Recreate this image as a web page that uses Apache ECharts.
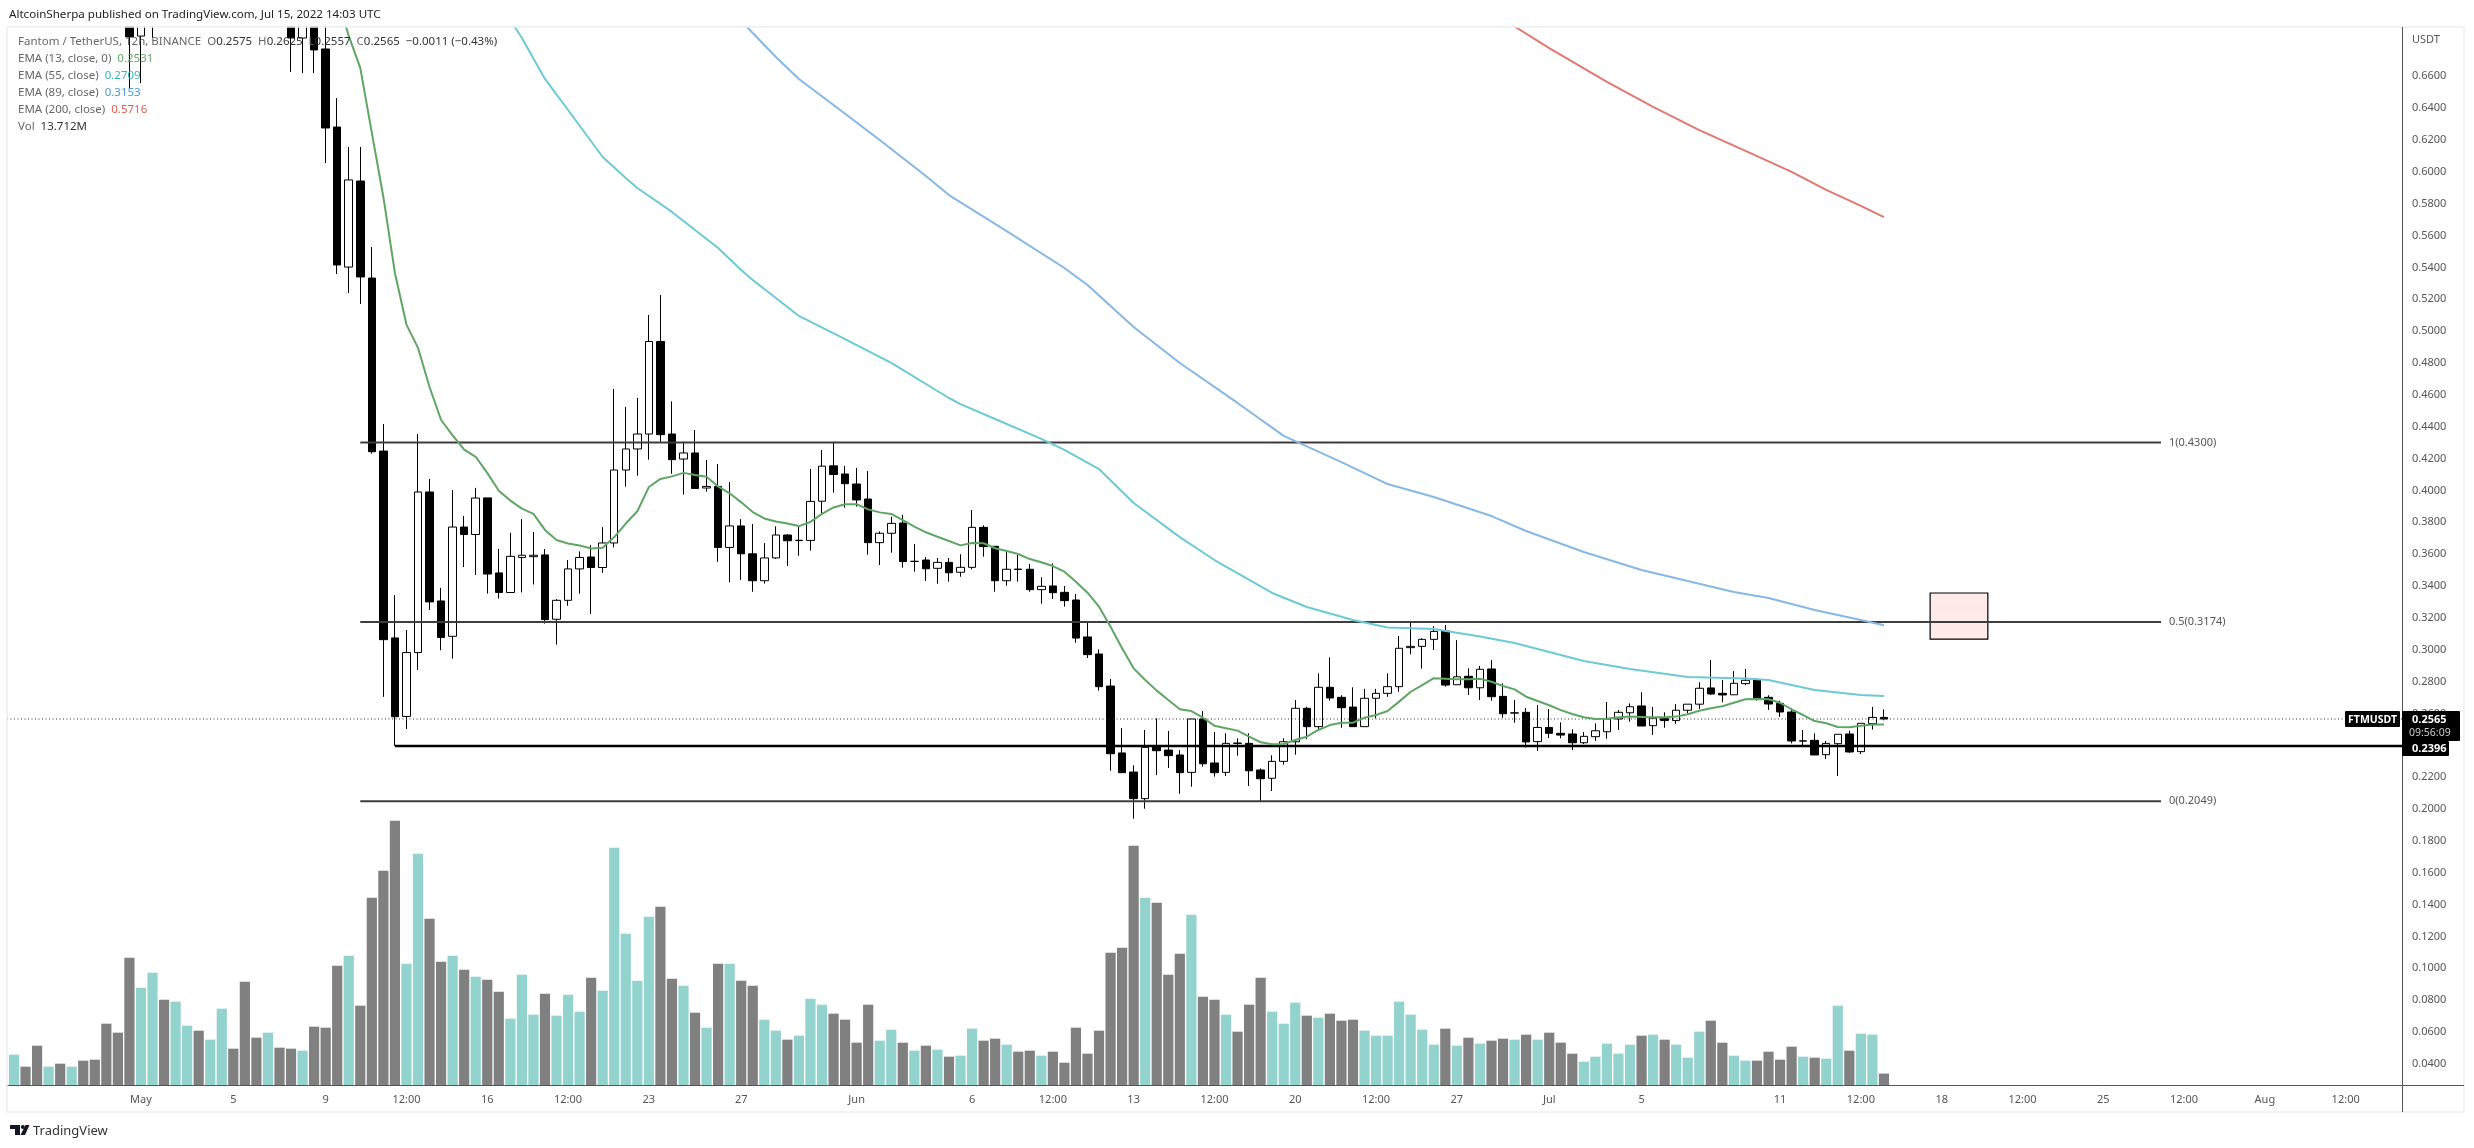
<!DOCTYPE html>
<html><head><meta charset="utf-8">
<style>html,body{margin:0;padding:0;background:#fff}#c{width:2474px;height:1148px}</style>
<script src="https://cdn.jsdelivr.net/npm/echarts@6/dist/echarts.min.js"></script>
</head><body><div id="c"></div>
<script>
const opens=[.90,.93,.91,.86,.875,.85,.87,.84,.82,.77,
.735,.6852,.735,.76,.74,.755,.77,.75,.765,.79,
.775,.74,.73,.745,.73,.6840,.71,.6771,.6281,.5402,
.5942,.5333,.4247,.3074,.2581,.2982,.3990,.3306,.3084,.3770,
.3723,.3953,.3482,.3359,.3579,.3584,.3595,.3191,.3310,.3507,
.3582,.3516,.3670,.4128,.4260,.4354,.4935,.4354,.4197,.4235,
.4015,.4025,.3642,.3777,.3602,.3433,.3576,.3720,.3685,.3686,
.3932,.4154,.4103,.4040,.3946,.3672,.3731,.3795,.3554,.3563,
.3511,.3548,.3486,.3517,.3768,.3649,.3433,.3506,.3505,.3377,
.3400,.3360,.3312,.3080,.2973,.2772,.2352,.2232,.2065,.2391,
.2370,.2339,.2230,.2565,.2289,.2230,.2414,.2412,.2245,.2193,
.2299,.2422,.2632,.2517,.2764,.2701,.2640,.2517,.2695,.2726,
.2768,.3013,.3021,.3065,.3117,.2780,.2833,.2761,.2879,.2707,
.2602,.2607,.2423,.2512,.2475,.2471,.2416,.2454,.2485,.2565,
.2604,.2647,.2523,.2567,.2555,.2620,.2658,.2760,.2726,.2717,
.2787,.2810,.2701,.2663,.2609,.2426,.2431,.2341,.2410,.2471,
.2360,.2536,.2575];
const closes=[.93,.91,.86,.875,.85,.87,.84,.82,.77,.735,
.6847,.735,.76,.74,.755,.77,.75,.765,.79,.775,
.74,.73,.745,.73,.6840,.71,.6765,.6275,.5415,.5949,
.5340,.4243,.3063,.2579,.2982,.3990,.3300,.3077,.3770,.3723,
.3952,.3475,.3359,.3586,.3593,.3593,.3189,.3310,.3507,.3579,
.3516,.3670,.4128,.4260,.4354,.4935,.4350,.4193,.4235,.4012,
.4025,.3642,.3777,.3602,.3433,.3576,.3720,.3684,.3687,.3931,
.4152,.4100,.4042,.3940,.3672,.3731,.3793,.3553,.3555,.3508,
.3548,.3483,.3517,.3768,.3647,.3433,.3505,.3504,.3377,.3398,
.3358,.3308,.3073,.2969,.2768,.2347,.2228,.2065,.2387,.2366,
.2335,.2228,.2565,.2284,.2228,.2412,.2412,.2240,.2190,.2299,
.2422,.2632,.2517,.2764,.2697,.2636,.2517,.2695,.2726,.2768,
.3009,.3021,.3065,.3115,.2778,.2830,.2761,.2877,.2705,.2598,
.2604,.2421,.2512,.2475,.2464,.2416,.2456,.2491,.2565,.2607,
.2642,.2521,.2570,.2555,.2620,.2658,.2758,.2722,.2716,.2789,
.2808,.2689,.2659,.2609,.2427,.2428,.2339,.2412,.2469,.2358,
.2538,.2575,.2565];
const lows=[.89,.90,.85,.85,.84,.84,.83,.81,.76,.72,
.6526,.6557,.6840,.725,.73,.745,.74,.74,.755,.765,
.73,.715,.72,.72,.6627,.6620,.6620,.6055,.5358,.5239,
.5170,.4231,.2704,.2396,.2502,.2873,.3249,.2997,.2944,.3519,
.3469,.3352,.3321,.3359,.3359,.3409,.3164,.3032,.3276,.3352,
.3224,.3482,.3642,.4023,.4092,.4193,.4305,.4104,.3974,.4012,
.3992,.3552,.3423,.3438,.3364,.3415,.3569,.3525,.3590,.3621,
.3858,.3986,.3891,.3898,.3596,.3532,.3609,.3515,.3490,.3431,
.3414,.3427,.3458,.3505,.3584,.3364,.3402,.3427,.3364,.3289,
.3318,.3270,.3044,.2948,.2743,.2240,.2228,.1939,.2002,.2213,
.2257,.2096,.2140,.2266,.2203,.2207,.2335,.2144,.2046,.2113,
.2278,.2341,.2438,.2492,.2680,.2510,.2517,.2517,.2569,.2704,
.2736,.2971,.2881,.2998,.2768,.2780,.2716,.2684,.2680,.2573,
.2542,.2386,.2364,.2446,.2444,.2370,.2408,.2427,.2441,.2496,
.2548,.2521,.2465,.2510,.2534,.2601,.2628,.2716,.2670,.2717,
.2778,.2680,.2622,.2578,.2412,.2397,.2339,.2314,.2207,.2353,
.2345,.2498,.2557];
const highs=[.94,.935,.92,.89,.88,.88,.875,.85,.83,.79,
.75,.75,.775,.77,.765,.78,.775,.775,.80,.795,
.78,.75,.755,.75,.74,.725,.72,.71,.6463,.6156,
.6156,.5528,.4417,.3343,.3124,.4354,.4072,.3388,.4002,.3839,
.4016,.3953,.3632,.3734,.3820,.3739,.3632,.3318,.3563,.3617,
.3657,.3770,.4637,.4524,.4581,.5101,.5227,.4559,.4305,.4379,
.4191,.4166,.4053,.3820,.3789,.3670,.3774,.3726,.3770,.4135,
.4254,.4304,.4154,.4141,.4122,.3743,.3835,.3846,.3664,.3582,
.3576,.3576,.3599,.3877,.3781,.3651,.3626,.3595,.3538,.3455,
.3542,.3400,.3350,.3176,.3002,.2816,.2508,.2274,.2496,.2569,
.2490,.2370,.2565,.2615,.2483,.2475,.2444,.2475,.2255,.2337,
.2444,.2684,.2642,.2852,.2952,.2714,.2764,.2754,.2754,.2852,
.3086,.3172,.3072,.3148,.3155,.3060,.2883,.2898,.2935,.2789,
.2684,.2634,.2653,.2628,.2544,.2500,.2483,.2538,.2672,.2622,
.2663,.2733,.2641,.2607,.2659,.2659,.2796,.2935,.2810,.2866,
.2879,.2820,.2714,.2680,.2632,.2496,.2475,.2427,.2469,.2492,
.2538,.2641,.2625];
const volumesM=[36.4,22,47.2,22,25.6,22,29.2,30.4,73.6,62.8,
152.8,116.8,134.8,102.4,100,71.2,65.2,54.4,91.6,43.6,
124,56.8,62.8,44.8,43.6,41.2,70,68.8,143.2,155.2,
95.2,224.8,257.2,317.2,145.6,277.6,199.6,148,155.2,138.4,
130,126.4,112,79.6,132.4,84.4,109.6,83.2,108.4,88,
128.8,113.2,284.8,181.6,125.2,202,214,127.6,119.2,86.8,
68.8,145.6,145.6,125.2,119.2,78.4,65.2,54.4,59.2,103.6,
96.4,85.6,78.4,50.8,96.4,53.2,66.4,50.8,41.2,47.2,
42.4,34,35.2,67.6,53.2,55.6,48.4,40,41.2,35.2,
40,26.8,68.8,37.6,65.2,158.8,164.8,287.2,224.8,218.8,
132.4,157.6,204.4,106,102.4,84.4,64,96.4,128.8,88,
73.6,98.8,83.2,80.8,85.6,77.2,78.4,65.2,59.2,59.2,
100,84.4,66.4,48.4,67.6,47.2,56.8,49.6,53.2,55.6,
54.4,60.4,54.4,62.8,50.8,37.6,28,34,49.6,37.6,
48.4,59.2,60.4,54.4,48.4,32.8,64,77.2,50.8,35.2,
29.2,29.2,40,30.4,46,34,32.8,31.6,95.2,41.2,
61.6,60.4,13.712];
const ema13Start=28;
const ema13=[.7097,.6853,.6652,.6244,.5842,.5365,.5041,.4895,.4649,.4442,.4346,.4256,.4211,.4110,.3998,.3936,.3886,.3853,.3752,.3689,.3667,.3654,.3635,.3640,.3707,.3792,.3869,.4021,.4072,.4088,.4110,.4097,.4086,.4025,.3982,.3925,.3864,.3824,.3805,.3792,.3776,.3802,.3853,.3893,.3913,.3913,.3881,.3862,.3852,.3814,.3772,.3737,.3709,.3682,.3655,.3670,.3668,.3637,.3620,.3601,.3569,.3549,.3525,.3490,.3427,.3358,.3270,.3144,.3009,.2883,.2810,.2743,.2684,.2626,.2615,.2573,.2523,.2507,.2492,.2454,.2419,.2406,.2408,.2433,.2454,.2496,.2527,.2542,.2542,.2573,.2590,.2615,.2674,.2736,.2778,.2821,.2818,.2814,.2814,.2818,.2799,.2772,.2751,.2705,.2678,.2651,.2621,.2596,.2576,.2565,.2567,.2576,.2580,.2578,.2576,.2576,.2580,.2595,.2617,.2632,.2645,.2667,.2689,.2691,.2689,.2667,.2626,.2590,.2552,.2538,.2515,.2513,.2523,.2530,.2531];
const ema55Bars=[43,44,46,48,51,53,54,57,60,61,63,64,68,72,76,81,82,85,89,91,94,97,101,104,109,112,116,119,123,127,130,136,140,145,150,152,156,160,162];
const ema55=[.6953,.6840,.6583,.6388,.6093,.5961,.5898,.5748,.5578,.5522,.5384,.5321,.5095,.4950,.4800,.4580,.4542,.4448,.4323,.4254,.4134,.3921,.3707,.3563,.3356,.3268,.3186,.3139,.3130,.3083,.3042,.2929,.2879,.2829,.2819,.2810,.2747,.2716,.2709];
const ema89Bars=[62,63,64,66,68,71,75,79,81,86,91,93,97,101,106,110,115,119,123,128,131,136,141,145,149,152,156,160,162];
const ema89=[.7020,.6947,.6871,.6721,.6583,.6419,.6200,.5974,.5854,.5628,.5396,.5289,.5026,.4800,.4549,.4342,.4178,.4040,.3959,.3839,.3745,.3613,.3500,.3431,.3362,.3325,.3249,.3186,.3153];
const ema200Bars=[129,130,133,138,142,146,150,154,157,160,162];
const ema200=[.6970,.6912,.6777,.6564,.6407,.6262,.6131,.5999,.5886,.5786,.5716];
const fibPrices=[.43,.3174,.2049];
const fibLabels=['1(0.4300)','0.5(0.3174)','0(0.2049)'];
const fibStartBar=30, fibEndBar=186;
const supportPrice=.2396, supportStartBar=33;
const lastPrice=.2565;
const boxBars=[166,171], boxPrices=[.3356,.3067];
const yTicks=[.04,.06,.08,.10,.12,.14,.16,.18,.20,.22,.24,.26,.28,.30,.32,.34,.36,.38,.40,.42,.44,.46,.48,.50,.52,.54,.56,.58,.60,.62,.64,.66];
const xTickBars=[11,19,27,34,41,48,55,63,73,83,90,97,104,111,118,125,133,141,153,160,167,174,181,188,195,202];
const xTickLabels=['May','5','9','12:00','16','12:00','23','27','Jun','6','12:00','13','12:00','20','12:00','27','Jul','5','11','12:00','18','12:00','25','12:00','Aug','12:00'];

const FONT='"Noto Sans"';
const X_MIN=-0.606, X_MAX=206.88;
const candleData=opens.map((o,i)=>[i,o,closes[i],lows[i],highs[i]]);
const volData=volumesM.map((v,i)=>({value:[i,v],itemStyle:{color:closes[i]>=opens[i]?'#92d3cd':'#808080'}}));
const pairs=(b,v)=>b.map((x,i)=>[x,v[i]]);
const lineSeries=(name,data,color,w)=>({name,type:'line',data,showSymbol:false,symbol:'none',z:5,silent:true,lineStyle:{color,width:w||1.6}});

const chart=echarts.init(document.getElementById('c'),null,{renderer:'canvas'});
chart.setOption({
  animation:false,backgroundColor:'#fff',
  grid:{left:7,top:27,right:72,height:1058,containLabel:false},
  xAxis:{type:'value',min:X_MIN,max:X_MAX,position:'bottom',
    axisLine:{show:true,onZero:false,lineStyle:{color:'#555',width:1}},axisTick:{show:false},splitLine:{show:false},
    axisLabel:{customValues:xTickBars,formatter:v=>xTickLabels[xTickBars.indexOf(v)],color:'#555',fontFamily:FONT,fontSize:11,margin:9,showMinLabel:true,showMaxLabel:true}},
  yAxis:[
    {type:'value',position:'right',min:0.02674,max:0.6909,scale:true,
      axisLine:{show:true,onZero:false,lineStyle:{color:'#555',width:1}},axisTick:{show:false},splitLine:{show:false},
      axisLabel:{customValues:yTicks,formatter:v=>v.toFixed(4),color:'#555',fontFamily:FONT,fontSize:11,margin:10,padding:[2,0,0,0]}},
    {type:'value',min:0,max:1269.6,show:false,splitLine:{show:false}}
  ],
  series:[
    {name:'Vol',type:'bar',yAxisIndex:1,data:volData,barWidth:10.2,z:1,silent:true},
    {name:'Fantom / TetherUS',type:'candlestick',data:candleData,barWidth:8,z:3,silent:true,
      itemStyle:{color:'#fff',color0:'#000',borderColor:'#000',borderColor0:'#000',borderWidth:1}},
    ...fibPrices.map((p,k)=>({name:fibLabels[k],type:'line',data:[[fibStartBar,p],[fibEndBar,p]],showSymbol:false,symbol:'none',z:4,silent:true,
      lineStyle:{color:'#3d3d3d',width:2},
      endLabel:{show:true,formatter:fibLabels[k],color:'#555',fontFamily:FONT,fontSize:11,distance:8}})),
    {name:'support',type:'line',data:[[supportStartBar,supportPrice],[X_MAX,supportPrice]],showSymbol:false,symbol:'none',z:4,silent:true,lineStyle:{color:'#000',width:2.5}},
    {name:'last',type:'line',data:[[X_MIN,lastPrice],[X_MAX,lastPrice]],showSymbol:false,symbol:'none',z:4,silent:true,lineStyle:{color:'#333',width:1,type:[1,2.5]}},
    lineSeries('EMA 13',ema13.map((v,i)=>[ema13Start+i,v]),'#5fa664',2),
    lineSeries('EMA 55',pairs(ema55Bars,ema55),'#6ccad5',2),
    lineSeries('EMA 89',pairs(ema89Bars,ema89),'#86b8e4',2),
    lineSeries('EMA 200',pairs(ema200Bars,ema200),'#e0796f',2),
    {name:'box',type:'line',data:[],z:6,silent:true,
      markArea:{silent:true,itemStyle:{color:'rgba(244,67,54,0.11)',borderColor:'#000',borderWidth:1.2},
        data:[[{coord:[boxBars[0],boxPrices[0]]},{coord:[boxBars[1],boxPrices[1]]}]]}}
  ]
});

const py=p=>chart.convertToPixel({yAxisIndex:0},p);
const lastY=py(lastPrice), supY=py(supportPrice);
const txt=(x,y,text,extra)=>({type:'text',z:100,silent:true,style:Object.assign({x,y,text,fontFamily:FONT,fontSize:11,fill:'#555',verticalAlign:'middle',align:'left'},extra||{})});
const tag=(x,y,w,h)=>({type:'rect',z:99,silent:true,shape:{x,y,width:w,height:h,r:1},style:{fill:'#000'}});
const rich={g:{fill:'#666',fontFamily:FONT,fontSize:11.5},k:{fill:'#333',fontFamily:FONT,fontSize:11.5},
  a:{fill:'#66a868',fontFamily:FONT,fontSize:11.5},b:{fill:'#37b6c5',fontFamily:FONT,fontSize:11.5},
  c:{fill:'#4a9bd4',fontFamily:FONT,fontSize:11.5},d:{fill:'#e05e55',fontFamily:FONT,fontSize:11.5}};
const legend=(y,t)=>txt(18,y,t,{rich});
chart.setOption({graphic:{elements:[
  {type:'rect',z:50,silent:true,shape:{x:0,y:0,width:2474,height:26.5},style:{fill:'#fff'}},
  {type:'rect',z:60,silent:true,shape:{x:7,y:27,width:2457,height:1085},style:{fill:'none',stroke:'#eeeeee',lineWidth:1.5}},
  {type:'line',z:61,silent:true,shape:{x1:2402.5,y1:27,x2:2402.5,y2:1112},style:{stroke:'#555',lineWidth:1}},
  {type:'line',z:61,silent:true,shape:{x1:2402,y1:1085.5,x2:2464,y2:1085.5},style:{stroke:'#555',lineWidth:1}},
  txt(9,15,'AltcoinSherpa published on TradingView.com, Jul 15, 2022 14:03 UTC',{fill:'#222',fontSize:11.6}),
  legend(42,'{g|Fantom / TetherUS, 12h, BINANCE  }{g|O}{k|0.2575  }{g|H}{k|0.2625  }{g|L}{k|0.2557  }{g|C}{k|0.2565  −0.0011 (−0.43%)}'),
  legend(59,'{g|EMA (13, close, 0)  }{a|0.2531}'),
  legend(76,'{g|EMA (55, close)  }{b|0.2709}'),
  legend(93,'{g|EMA (89, close)  }{c|0.3153}'),
  legend(110,'{g|EMA (200, close)  }{d|0.5716}'),
  legend(127,'{g|Vol  }{k|13.712M}'),
  txt(2412,40,'USDT',{fill:'#555'}),
  tag(2345,lastY-8,55,16),
  txt(2372.5,lastY+1,'FTMUSDT',{fill:'#fff',align:'center',fontWeight:'bold',fontSize:10.5}),
  tag(2402,lastY-8,58,30),
  txt(2412,lastY+1,'0.2565',{fill:'#fff',fontWeight:'bold'}),
  txt(2409,lastY+14,'09:56:09',{fill:'#ccc',fontSize:10.5}),
  tag(2402,supY-5,47,15),
  txt(2412,supY+2.5,'0.2396',{fill:'#fff',fontWeight:'bold'}),
  {type:'polygon',z:100,silent:true,shape:{points:[[10,1125],[20,1125],[20,1135],[15,1135],[15,1129],[10,1129]]},style:{fill:'#131722'}},
  {type:'circle',z:100,silent:true,shape:{cx:22.8,cy:1127,r:2},style:{fill:'#131722'}},
  {type:'polygon',z:100,silent:true,shape:{points:[[25.5,1125],[29.5,1125],[25,1135],[20.5,1135]]},style:{fill:'#131722'}},
  txt(33,1131,'TradingView',{fill:'#333',fontSize:13})
]}});
</script></body></html>
